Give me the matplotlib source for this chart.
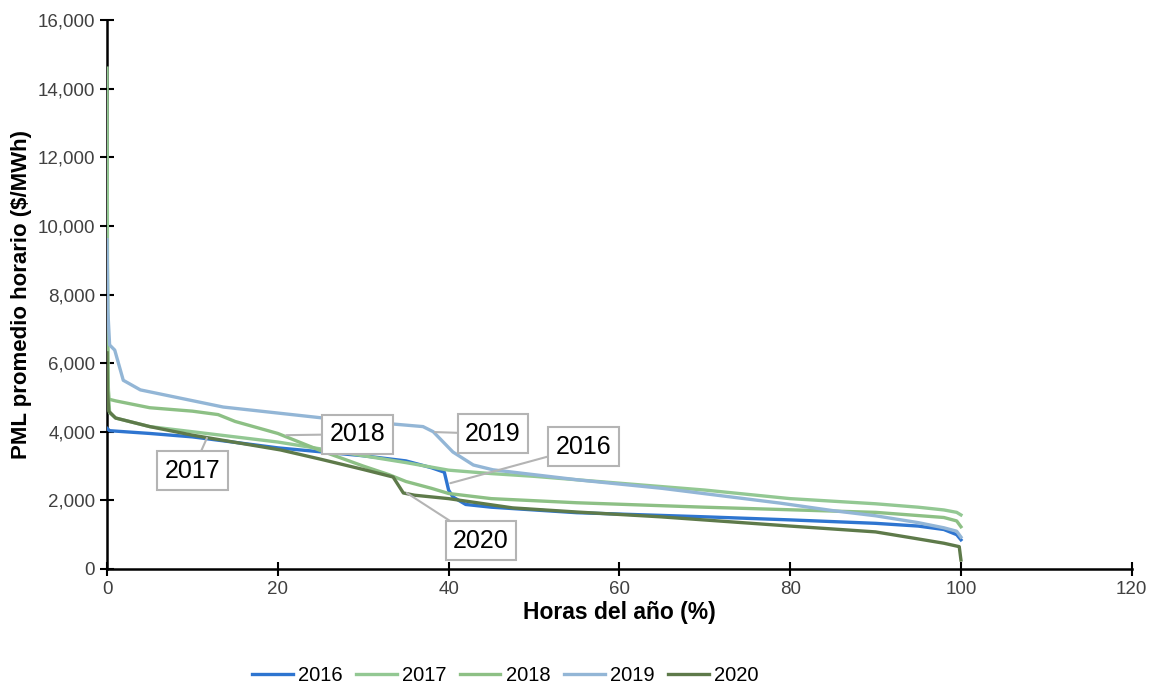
import matplotlib.pyplot as plt

# Curvas de duración del PML promedio horario
x_2016 = [0, 0.3, 5, 10, 20, 30, 35, 38, 39.5, 40, 40.5, 42, 45, 50, 55, 60, 70, 80, 90, 95, 98, 99.5, 100]
y_2016 = [4100, 4030, 3950, 3850, 3530, 3300, 3150, 2950, 2820, 2300, 2100, 1880, 1800, 1720, 1640, 1600, 1520, 1430, 1330, 1250, 1150, 1000, 850]

x_2017 = [0, 0.05, 0.15, 0.3, 1, 5, 10, 15, 20, 30, 35, 40, 45, 50, 60, 70, 80, 90, 95, 98, 99.5, 100]
y_2017 = [14600, 9000, 5200, 4550, 4400, 4150, 4000, 3850, 3700, 3300, 3100, 2880, 2780, 2700, 2500, 2300, 2050, 1900, 1800, 1720, 1650, 1575]

x_2018 = [0, 0.05, 0.2, 1, 5, 10, 13, 15, 20, 25, 30, 33, 35, 38, 40, 45, 55, 70, 90, 98, 99.5, 100]
y_2018 = [8000, 6000, 4950, 4900, 4700, 4600, 4500, 4300, 3950, 3450, 3000, 2750, 2550, 2350, 2200, 2050, 1930, 1800, 1650, 1500, 1400, 1230]

x_2019 = [0, 0.1, 0.3, 0.9, 1.9, 3.9, 13.6, 25.3, 37, 38.2, 40.5, 42.9, 45.2, 55.4, 65, 78.8, 85, 90, 95, 98, 99.5, 100]
y_2019 = [9600, 7500, 6530, 6380, 5500, 5220, 4720, 4400, 4150, 4000, 3410, 3030, 2890, 2590, 2350, 1920, 1700, 1550, 1350, 1200, 1100, 930]

x_2020 = [0, 0.05, 0.2, 1, 5, 10, 20.3, 25, 30, 33.5, 34.7, 36, 40, 47.5, 55, 64.8, 80, 90, 94.4, 98, 99.8, 100]
y_2020 = [6300, 5200, 4600, 4400, 4150, 3900, 3470, 3200, 2900, 2680, 2215, 2150, 2050, 1780, 1660, 1520, 1250, 1080, 900, 750, 650, 260]

years = ['2016', '2017', '2018', '2019', '2020']
colors = ['#2e75d0', '#93c893', '#8dc085', '#93b6d6', '#5e7a4a']

# etiquetas: (texto, punto señalado, posición de la caja)
callouts = [
    ('2017', (11.7, 3820), (10.0, 2860)),
    ('2018', (21.0, 3900), (29.3, 3930)),
    ('2019', (38.4, 3990), (45.2, 3935)),
    ('2016', (40.2, 2500), (55.8, 3560)),
    ('2020', (35.1, 2215), (43.8, 815)),
]

plt.rcParams['font.family'] = ['Liberation Sans', 'DejaVu Sans']

fig = plt.figure(figsize=(11.56, 6.93), dpi=100)
ax = fig.add_axes([0.0926, 0.179, 0.8864, 0.792])

series = [(x_2016, y_2016), (x_2017, y_2017), (x_2018, y_2018), (x_2019, y_2019), (x_2020, y_2020)]
# orden de dibujo parecido al original
for i in [0, 3, 1, 2, 4]:
    xs, ys = series[i]
    ax.plot(xs, ys, color=colors[i], lw=2.4, label=years[i], zorder=3 + i)

for text, pt, pos in callouts:
    ax.annotate(text, xy=pt, xytext=pos, fontsize=18, ha='center', va='center',
                bbox=dict(boxstyle='square,pad=0.3', fc='white', ec='#b4b4b4', lw=1.5),
                arrowprops=dict(arrowstyle='-', color='#b4b4b4', lw=1.5, shrinkA=0, shrinkB=0),
                zorder=10)

ax.set_xlim(0, 120)
ax.set_ylim(0, 16000)
ax.set_xticks(range(0, 121, 20))
ax.set_yticks(range(0, 16001, 2000))
ax.set_yticklabels([f'{v:,}' for v in range(0, 16001, 2000)])
ax.tick_params(direction='inout', length=10, width=1.5, labelsize=13.5, colors='black')
ax.tick_params(axis='both', labelcolor='#404040')
for s in ['top', 'right']:
    ax.spines[s].set_visible(False)
for s in ['left', 'bottom']:
    ax.spines[s].set_linewidth(1.8)

ax.set_xlabel('Horas del año (%)', fontsize=16.5, fontweight='bold', labelpad=2)
ax.set_ylabel('PML promedio horario ($/MWh)', fontsize=16, fontweight='bold', labelpad=4)

handles, labels = ax.get_legend_handles_labels()
order = [labels.index(y) for y in years]
fig.legend([handles[i] for i in order], years, loc='center', bbox_to_anchor=(0.437, 0.025),
           ncol=5, frameon=False, fontsize=14.5, handlelength=2.0, columnspacing=0.7, handletextpad=0.25)

fig.savefig('out.png', dpi=100)
